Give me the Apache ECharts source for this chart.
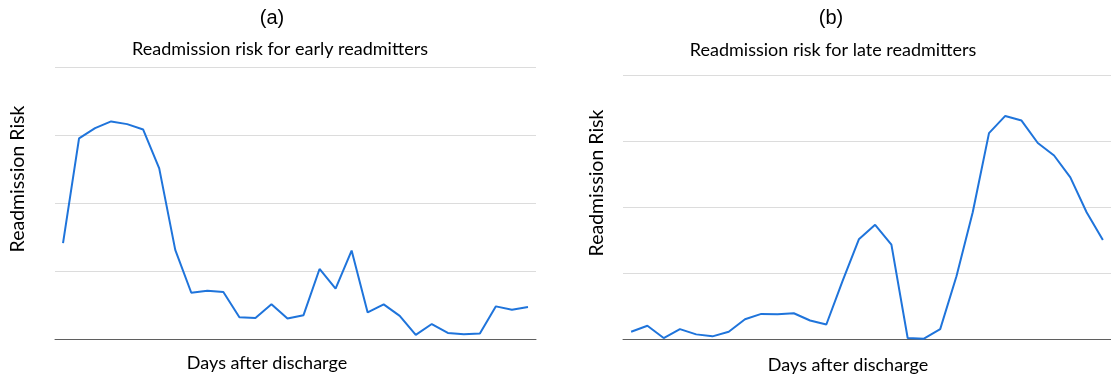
<!DOCTYPE html>
<html>
<head>
<meta charset="utf-8">
<script src="https://cdn.jsdelivr.net/npm/echarts@6/dist/echarts.min.js"></script>
<style>
html,body{margin:0;padding:0;background:#fff;}
#chart{width:1111px;height:379px;}
</style>
</head>
<body>
<div id="chart"></div>
<script>
// Day index after discharge (30 points per panel)
const days = Array.from({length: 30}, (_, i) => String(i + 1));
// Panel (a): early readmitters (relative risk, unitless gridline units)
const earlyRisk = [1.41, 2.95, 3.10, 3.20, 3.16, 3.08, 2.51, 1.31, 0.68, 0.71,
                   0.69, 0.32, 0.31, 0.51, 0.30, 0.35, 1.03, 0.74, 1.30, 0.39,
                   0.51, 0.34, 0.06, 0.22, 0.09, 0.07, 0.08, 0.48, 0.43, 0.47];
// Panel (b): late readmitters
const lateRisk = [0.11, 0.20, 0.015, 0.15, 0.07, 0.04, 0.11, 0.30, 0.38, 0.375,
                  0.39, 0.28, 0.22, 0.88, 1.51, 1.73, 1.43, 0.015, 0.005, 0.15,
                  0.95, 1.92, 3.12, 3.38, 3.31, 2.97, 2.78, 2.45, 1.92, 1.50];
const panelLabels = ['(a)', '(b)'];
const panelTitles = ['Readmission risk for early readmitters', 'Readmission risk for late readmitters'];
const xName = 'Days after discharge';
const yName = 'Readmission Risk';

const lineColor = '#1f74db';
const FONT = 'Lato, "Open Sans", sans-serif';
const LFONT = '"Liberation Sans", Arial, sans-serif';

function xAxisCfg(gi) {
  return {
    type: 'category', gridIndex: gi, data: days, boundaryGap: true,
    axisLine: {show: true, lineStyle: {color: '#5f5f5f', width: 1}},
    axisTick: {show: false}, axisLabel: {show: false}, splitLine: {show: false}
  };
}
function yAxisCfg(gi) {
  return {
    type: 'value', gridIndex: gi, min: 0, max: 4, interval: 1,
    axisLine: {show: false}, axisTick: {show: false}, axisLabel: {show: false},
    splitLine: {show: true, lineStyle: {color: '#dcdcdc', width: 1}}
  };
}
function txt(x, y, text, font, rot) {
  return {
    type: 'text', x: x, y: y, rotation: rot || 0,
    style: {text: text, fill: '#000', font: font, textAlign: 'center', textVerticalAlign: 'middle'}
  };
}

const chart = echarts.init(document.getElementById('chart'), null, {renderer: 'canvas'});
chart.setOption({
  animation: false,
  backgroundColor: '#fff',
  grid: [
    {left: 55, right: 575, top: 67, bottom: 40, containLabel: false},
    {left: 623, right: 0, top: 75, bottom: 40, containLabel: false}
  ],
  xAxis: [xAxisCfg(0), xAxisCfg(1)],
  yAxis: [yAxisCfg(0), yAxisCfg(1)],
  series: [
    {type: 'line', xAxisIndex: 0, yAxisIndex: 0, data: earlyRisk, showSymbol: false, symbol: 'none',
     lineStyle: {color: lineColor, width: 2}, itemStyle: {color: lineColor}},
    {type: 'line', xAxisIndex: 1, yAxisIndex: 1, data: lateRisk, showSymbol: false, symbol: 'none',
     lineStyle: {color: lineColor, width: 2}, itemStyle: {color: lineColor}}
  ],
  graphic: [
    txt(272, 18, panelLabels[0], '20px ' + LFONT),
    txt(280, 49, panelTitles[0], '18px ' + FONT),
    txt(267, 363, xName, '18px ' + FONT),
    txt(18, 179, yName, '19.5px ' + FONT, Math.PI / 2),
    txt(831, 18, panelLabels[1], '20px ' + LFONT),
    txt(833, 50, panelTitles[1], '18px ' + FONT),
    txt(848, 365, xName, '18px ' + FONT),
    txt(597, 183, yName, '19.5px ' + FONT, Math.PI / 2)
  ]
});
</script>
</body>
</html>
